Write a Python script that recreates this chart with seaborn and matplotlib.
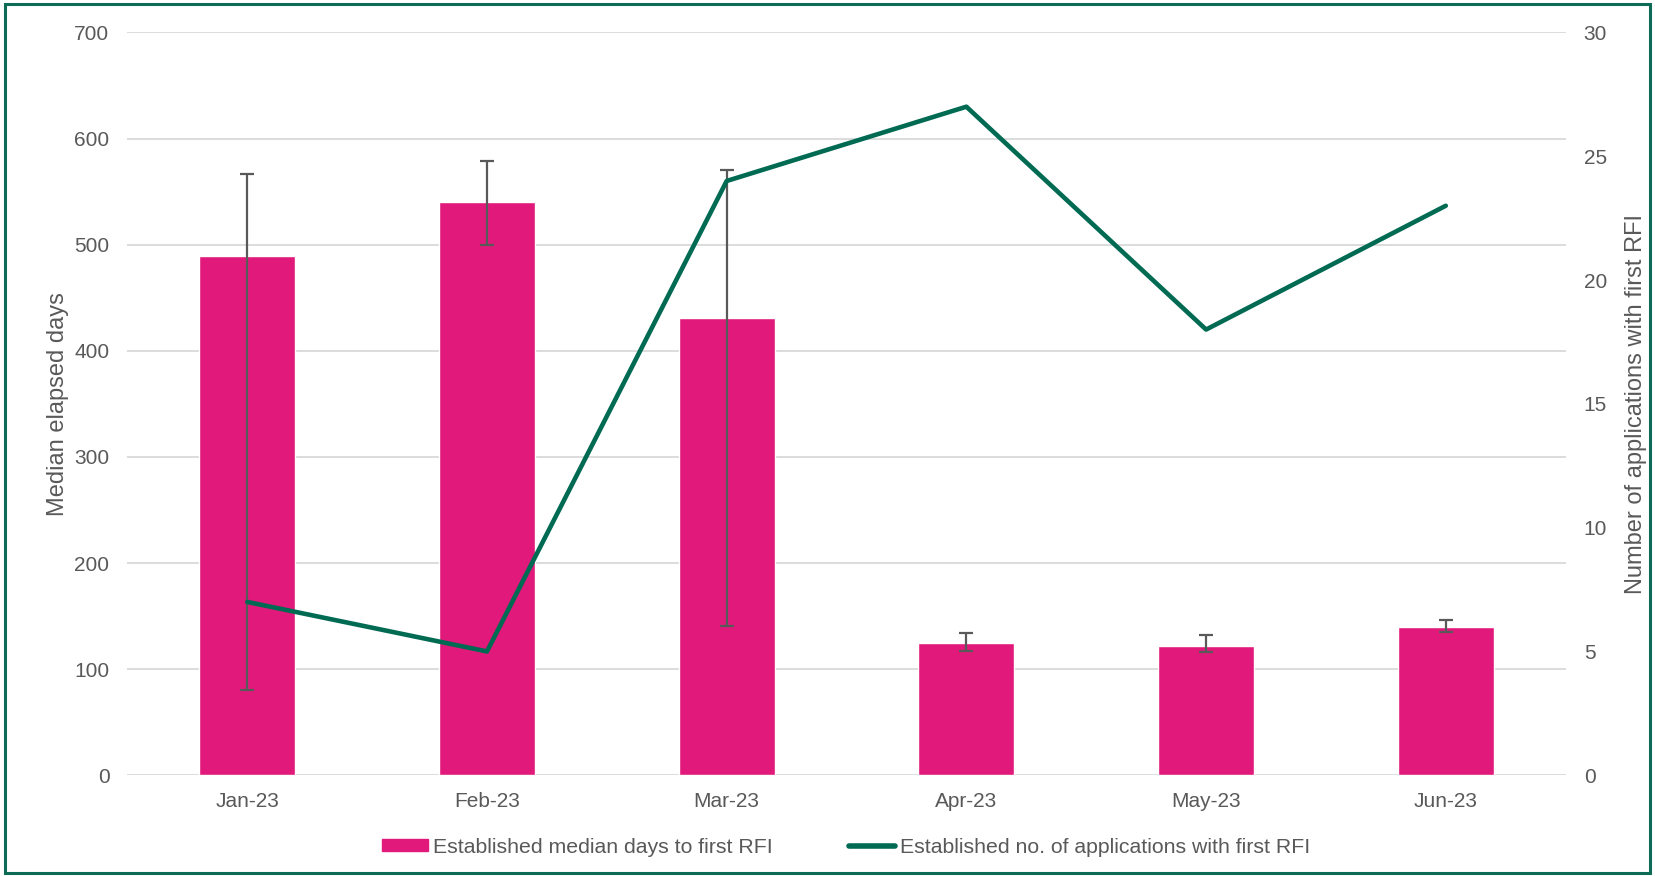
import numpy as np
import pandas as pd
import matplotlib
matplotlib.use("Agg")
import matplotlib.pyplot as plt
import seaborn as sns
from matplotlib.patches import Patch, Rectangle
from matplotlib.lines import Line2D

# data
months = ["Jan-23", "Feb-23", "Mar-23", "Apr-23", "May-23", "Jun-23"]
median_days = [489, 540, 431, 125, 122, 140]
err_low = [80, 500, 141, 117, 116, 135]
err_high = [567, 579, 570, 134, 132, 146]
n_apps = [7, 5, 24, 27, 18, 23]

pink = "#E0197A"
green = "#006A52"
grey_txt = "#595959"

sns.set_theme(style="white")
plt.rcParams["font.family"] = ["Liberation Sans", "DejaVu Sans"]

df = pd.DataFrame({"month": months, "days": median_days})

fig = plt.figure(figsize=(16.55, 8.76), dpi=100)
ax = fig.add_axes([0.077, 0.115, 0.869, 0.848])

sns.barplot(data=df, x="month", y="days", color=pink, width=0.4,
            saturation=1, ax=ax, errorbar=None)
pos = np.arange(len(months))
yerr = [np.array(median_days) - np.array(err_low),
        np.array(err_high) - np.array(median_days)]
ax.errorbar(pos, median_days, yerr=yerr, fmt="none", ecolor=grey_txt,
            elinewidth=1.6, capsize=5, capthick=1.6, zorder=3)

ax.set_ylim(0, 700)
ax.set_yticks(range(0, 701, 100))
ax.set_xlim(-0.5, len(months) - 0.5)
ax.yaxis.grid(True, color="#D9D9D9", linewidth=1.3)
ax.set_axisbelow(True)
for s in ax.spines.values():
    s.set_visible(False)
ax.set_xlabel("")
ax.set_ylabel("Median elapsed days", fontsize=17, color=grey_txt, labelpad=4)
ax.tick_params(axis="x", labelsize=15, colors=grey_txt, length=0, pad=12)
ax.tick_params(axis="y", labelsize=15, colors=grey_txt, length=0, pad=13)

ax2 = ax.twinx()
sns.lineplot(x=pos, y=n_apps, color=green, linewidth=3.3, ax=ax2)
ax2.set_ylim(0, 30)
ax2.set_yticks(range(0, 31, 5))
for s in ax2.spines.values():
    s.set_visible(False)
ax2.tick_params(axis="y", labelsize=15, colors=grey_txt, length=0, pad=13)
ax2.set_ylabel("Number of applications with first RFI", fontsize=17,
               color=grey_txt, labelpad=13)
ax2.grid(False)

# legend centred under the plot area
handles = [Patch(facecolor=pink, edgecolor=pink),
           Line2D([0], [0], color=green, linewidth=4)]
labels = ["Established median days to first RFI",
          "Established no. of applications with first RFI"]
fig.legend(handles, labels, loc="center", bbox_to_anchor=(0.511, 0.033), ncol=2,
           frameon=False, fontsize=15.3, labelcolor=grey_txt,
           handlelength=2.2, handleheight=0.55, handletextpad=0.2,
           columnspacing=3.6)

fig.patches.append(Rectangle((0.003, 0.003), 0.994, 0.992, transform=fig.transFigure,
                             fill=False, edgecolor="#0E6B55", linewidth=2.2))

fig.savefig("out.png", dpi=100)
